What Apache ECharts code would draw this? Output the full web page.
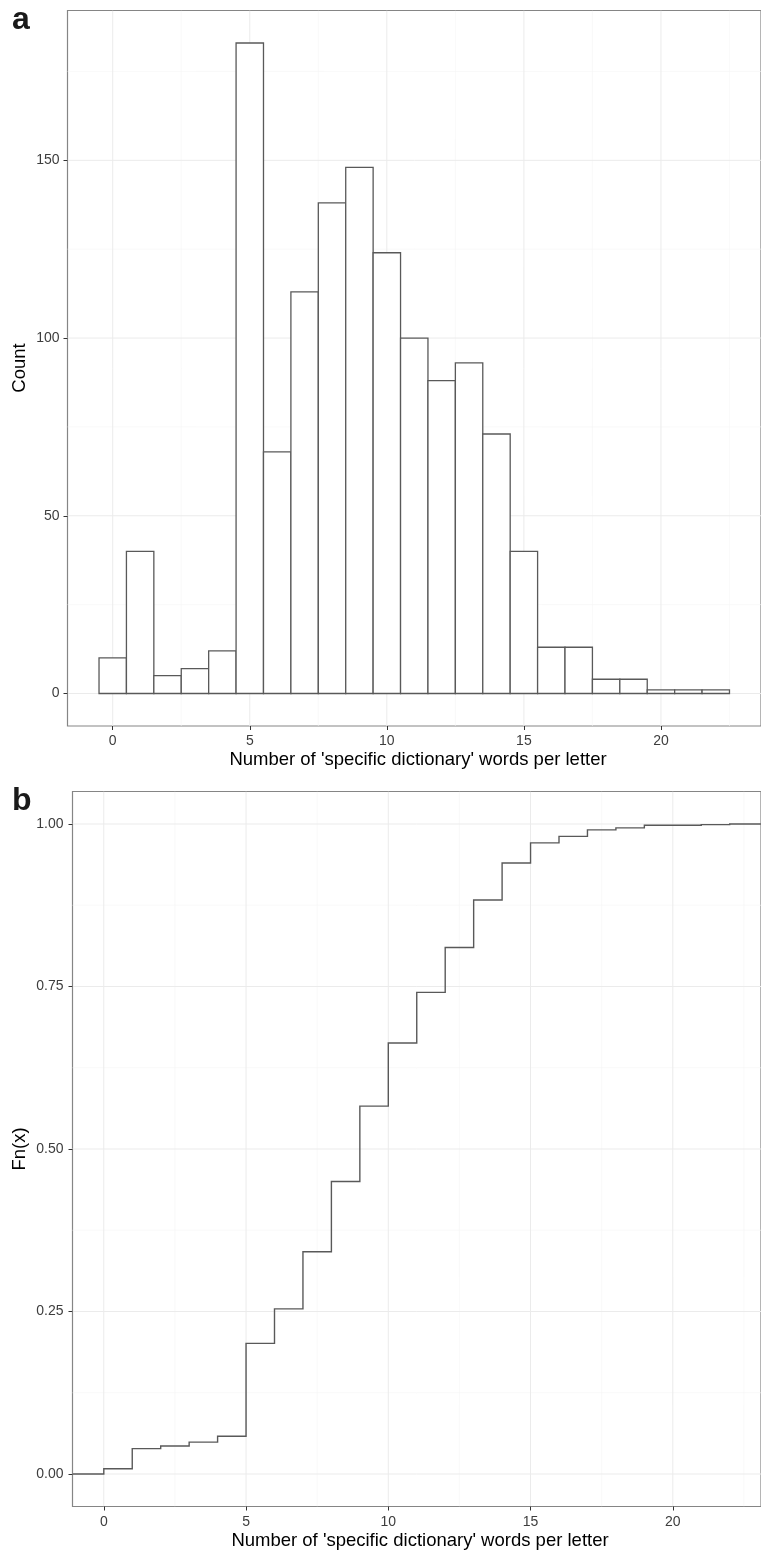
<!DOCTYPE html>
<html>
<head>
<meta charset="utf-8">
<script src="https://cdn.jsdelivr.net/npm/echarts@6/dist/echarts.min.js"></script>
<style>
html,body{margin:0;padding:0;background:#fff;}
#chart{width:761px;height:1553px;}
</style>
</head>
<body>
<div id="chart"></div>
<script>
// ---- data ----
const bins = [0,1,2,3,4,5,6,7,8,9,10,11,12,13,14,15,16,17,18,19,20,21,22];
const counts = [10,40,5,7,12,183,68,113,138,148,124,100,88,93,73,40,13,13,4,4,1,1,1];
const ecdfX = [0,1,2,3,4,5,6,7,8,9,10,11,12,13,14,15,16,17,18,19,20,21,22];
const ecdfF = [0.008,0.039,0.043,0.049,0.058,0.201,0.254,0.342,0.450,0.566,0.663,0.741,0.810,0.883,0.940,0.971,0.981,0.991,0.994,0.998,0.998,0.999,1.000];
const xTicks = [0,5,10,15,20];
const xMinor = [2.5,7.5,12.5,17.5,22.5];
const countTicks = [0,50,100,150];
const countMinor = [25,75,125,175];
const fnTicks = [0,0.25,0.5,0.75,1];
const fnMinor = [0.125,0.375,0.625,0.875];
const xTitle = "Number of 'specific dictionary' words per letter";

// ---- axis ranges (ggplot-style 5% expansion) ----
const binWidth = 1;
const histX = [-1.65, 23.65];
const histY = [-9.15, 192.15];
const ecdfXR = [-1.1, 23.1];
const ecdfYR = [-0.05, 1.05];

const FONT = "'Liberation Sans', Arial, Helvetica, sans-serif";
const TICK_COL = '#333333';
const LABEL_COL = '#3d3d3d';
const MAJOR_GRID = '#ebebeb';
const MINOR_GRID = '#f5f5f5';
const MARK_COL = '#595959';
const LABEL_SIZE = 14;
const TITLE_SIZE = 18.5;

function xAxisCfg(gi, range, ticks, margin) {
  return {
    type: 'value', gridIndex: gi, min: range[0], max: range[1],
    axisLine: {show: false, onZero: false}, splitLine: {show: false}, minorSplitLine: {show: false},
    axisTick: {show: true, length: 4, inside: false, customValues: ticks, lineStyle: {color: TICK_COL, width: 1}},
    axisLabel: {customValues: ticks, color: LABEL_COL, fontSize: LABEL_SIZE, fontFamily: FONT, margin: margin}
  };
}
function yAxisCfg(gi, range, ticks, margin, fmt) {
  return {
    type: 'value', gridIndex: gi, min: range[0], max: range[1],
    axisLine: {show: false, onZero: false}, splitLine: {show: false}, minorSplitLine: {show: false},
    axisTick: {show: true, length: 4, inside: false, customValues: ticks, lineStyle: {color: TICK_COL, width: 1}},
    axisLabel: {customValues: ticks, color: LABEL_COL, fontSize: LABEL_SIZE, fontFamily: FONT, margin: margin, formatter: fmt}
  };
}

// grid-line series built from tick arrays
function gridSeries(gi, xr, yr, xMaj, xMin, yMaj, yMin) {
  const data = [];
  xMin.forEach(v => data.push([v, 0, 0]));
  yMin.forEach(v => data.push([v, 1, 0]));
  xMaj.forEach(v => data.push([v, 0, 1]));
  yMaj.forEach(v => data.push([v, 1, 1]));
  return {
    type: 'custom', xAxisIndex: gi, yAxisIndex: gi, silent: true, z: 0,
    clip: true,
    data: data,
    renderItem: function (params, api) {
      const v = api.value(0), dir = api.value(1), major = api.value(2);
      let a, b;
      if (dir === 0) { a = api.coord([v, yr[0]]); b = api.coord([v, yr[1]]); }
      else { a = api.coord([xr[0], v]); b = api.coord([xr[1], v]); }
      return {
        type: 'line',
        shape: {x1: a[0], y1: a[1], x2: b[0], y2: b[1]},
        style: {stroke: major ? MAJOR_GRID : MINOR_GRID, lineWidth: major ? 1 : 0.6}
      };
    }
  };
}

const histData = bins.map((b, i) => [b, counts[i]]);
// ECDF points, padded to the axis ends (ggplot's -Inf / Inf)
const stepData = [[ecdfXR[0], 0]].concat(ecdfX.map((x, i) => [x, ecdfF[i]])).concat([[ecdfXR[1], ecdfF[ecdfF.length - 1]]]);

const chart = echarts.init(document.getElementById('chart'), null, {renderer: 'canvas'});
chart.setOption({
  animation: false,
  backgroundColor: '#ffffff',
  grid: [
    {left: 67.5, top: 10.5, width: 701.4, height: 715.5, show: true, borderColor: '#858585', borderWidth: 1.2, backgroundColor: 'transparent', containLabel: false},
    {left: 72.5, top: 791.5, width: 696.1, height: 715, show: true, borderColor: '#858585', borderWidth: 1.2, backgroundColor: 'transparent', containLabel: false}
  ],
  xAxis: [
    xAxisCfg(0, histX, xTicks, 8),
    xAxisCfg(1, ecdfXR, xTicks, 9)
  ],
  yAxis: [
    yAxisCfg(0, histY, countTicks, 8, v => String(v)),
    yAxisCfg(1, ecdfYR, fnTicks, 9, v => v.toFixed(2))
  ],
  series: [
    gridSeries(0, histX, histY, xTicks, xMinor, countTicks, countMinor),
    gridSeries(1, ecdfXR, ecdfYR, xTicks, xMinor, fnTicks, fnMinor),
    {
      type: 'custom', xAxisIndex: 0, yAxisIndex: 0, z: 2,
      data: histData,
      renderItem: function (params, api) {
        const x = api.value(0), c = api.value(1);
        const p0 = api.coord([x - binWidth / 2, 0]);
        const p1 = api.coord([x + binWidth / 2, c]);
        return {
          type: 'rect',
          shape: {x: p0[0], y: p1[1], width: p1[0] - p0[0], height: p0[1] - p1[1]},
          style: {fill: '#ffffff', stroke: MARK_COL, lineWidth: 1.3}
        };
      }
    },
    {
      // step function drawn as one polyline (each step: horizontal then vertical)
      type: 'custom', xAxisIndex: 1, yAxisIndex: 1, z: 2, clip: true,
      data: stepData,
      renderItem: function (params, api) {
        if (params.dataIndex !== 0) return null;
        const pts = [];
        for (let i = 0; i < stepData.length; i++) {
          const cur = stepData[i];
          if (i > 0) {
            const prev = stepData[i - 1];
            pts.push(api.coord([cur[0], prev[1]]));
          }
          pts.push(api.coord([cur[0], cur[1]]));
        }
        return {
          type: 'polyline',
          shape: {points: pts},
          style: {stroke: MARK_COL, lineWidth: 1.4, fill: null, lineJoin: 'miter'}
        };
      }
    }
  ],
  graphic: [
    {type: 'text', x: 12, y: 20, style: {text: 'a', font: 'bold 32px ' + FONT, fill: '#1a1a1a', textAlign: 'left', textVerticalAlign: 'middle'}},
    {type: 'text', x: 12, y: 801, style: {text: 'b', font: 'bold 32px ' + FONT, fill: '#1a1a1a', textAlign: 'left', textVerticalAlign: 'middle'}},
    {type: 'text', x: 418, y: 760, style: {text: xTitle, font: TITLE_SIZE + 'px ' + FONT, fill: '#000', textAlign: 'center', textVerticalAlign: 'middle'}},
    {type: 'text', x: 420, y: 1541, style: {text: xTitle, font: TITLE_SIZE + 'px ' + FONT, fill: '#000', textAlign: 'center', textVerticalAlign: 'middle'}},
    {type: 'text', x: 20, y: 368, rotation: Math.PI / 2, style: {text: 'Count', font: TITLE_SIZE + 'px ' + FONT, fill: '#000', textAlign: 'center', textVerticalAlign: 'middle'}},
    {type: 'text', x: 20, y: 1149, rotation: Math.PI / 2, style: {text: 'Fn(x)', font: TITLE_SIZE + 'px ' + FONT, fill: '#000', textAlign: 'center', textVerticalAlign: 'middle'}}
  ]
});
</script>
</body>
</html>
